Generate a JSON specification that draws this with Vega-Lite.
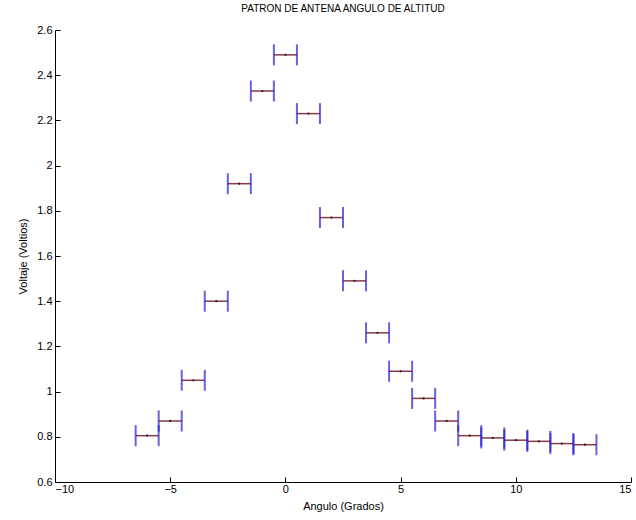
{
  "$schema": "https://vega.github.io/schema/vega-lite/v6.json",
  "width": 576,
  "height": 452,
  "autosize": "none",
  "padding": {"left": 55, "top": 30, "right": 5, "bottom": 38},
  "background": "white",
  "title": {"text": "PATRON DE ANTENA ANGULO DE ALTITUD", "fontSize": 10, "font": "Liberation Sans", "fontWeight": "normal", "color": "#000", "offset": 10, "anchor": "middle"},
  "config": {
    "view": {"stroke": null},
    "axis": {"grid": false, "domainColor": "#000", "tickColor": "#000", "labelColor": "#000", "titleColor": "#000", "labelFont": "Liberation Sans", "titleFont": "Liberation Sans", "labelFontSize": 11, "titleFontSize": 11, "titleFontWeight": "normal", "domainWidth": 1, "tickWidth": 1, "tickSize": -5}
  },
  "data": {"values": [
    {"x": -6, "y": 0.805, "xlo": -6.5, "xhi": -5.5},
    {"x": -5, "y": 0.87, "xlo": -5.5, "xhi": -4.5},
    {"x": -4, "y": 1.05, "xlo": -4.5, "xhi": -3.5},
    {"x": -3, "y": 1.40, "xlo": -3.5, "xhi": -2.5},
    {"x": -2, "y": 1.92, "xlo": -2.5, "xhi": -1.5},
    {"x": -1, "y": 2.33, "xlo": -1.5, "xhi": -0.5},
    {"x": 0, "y": 2.49, "xlo": -0.5, "xhi": 0.5},
    {"x": 1, "y": 2.23, "xlo": 0.5, "xhi": 1.5},
    {"x": 2, "y": 1.77, "xlo": 1.5, "xhi": 2.5},
    {"x": 3, "y": 1.49, "xlo": 2.5, "xhi": 3.5},
    {"x": 4, "y": 1.26, "xlo": 3.5, "xhi": 4.5},
    {"x": 5, "y": 1.09, "xlo": 4.5, "xhi": 5.5},
    {"x": 6, "y": 0.97, "xlo": 5.5, "xhi": 6.5},
    {"x": 7, "y": 0.87, "xlo": 6.5, "xhi": 7.5},
    {"x": 8, "y": 0.805, "xlo": 7.5, "xhi": 8.5},
    {"x": 9, "y": 0.795, "xlo": 8.5, "xhi": 9.5},
    {"x": 10, "y": 0.785, "xlo": 9.5, "xhi": 10.5},
    {"x": 11, "y": 0.78, "xlo": 10.5, "xhi": 11.5},
    {"x": 12, "y": 0.77, "xlo": 11.5, "xhi": 12.5},
    {"x": 13, "y": 0.765, "xlo": 12.5, "xhi": 13.5}
  ]},
  "encoding": {
    "y": {"field": "y", "type": "quantitative", "scale": {"domain": [0.6, 2.6], "nice": false, "zero": false},
          "axis": {"title": "Voltaje  (Voltios)", "values": [0.6, 0.8, 1, 1.2, 1.4, 1.6, 1.8, 2, 2.2, 2.4, 2.6], "format": "~g", "labelPadding": 8, "titlePadding": 8}}
  },
  "layer": [
    {"mark": {"type": "rule", "color": "#8a3a44", "strokeWidth": 1.5},
     "encoding": {"x": {"field": "xlo", "type": "quantitative", "scale": {"domain": [-10, 15], "nice": false},
                        "axis": {"title": "Angulo  (Grados)", "values": [-10, -5, 0, 5, 10, 15], "format": "~g", "labelPadding": 6, "titlePadding": 6}},
                  "x2": {"field": "xhi"}}},
    {"mark": {"type": "tick", "orient": "vertical", "color": "#2a20d0", "size": 21, "thickness": 2},
     "encoding": {"x": {"field": "xlo", "type": "quantitative"}}},
    {"mark": {"type": "tick", "orient": "vertical", "color": "#2a20d0", "size": 21, "thickness": 2},
     "encoding": {"x": {"field": "xhi", "type": "quantitative"}}},
    {"mark": {"type": "point", "filled": true, "color": "#222", "size": 5, "opacity": 1},
     "encoding": {"x": {"field": "x", "type": "quantitative"}}}
  ]
}
